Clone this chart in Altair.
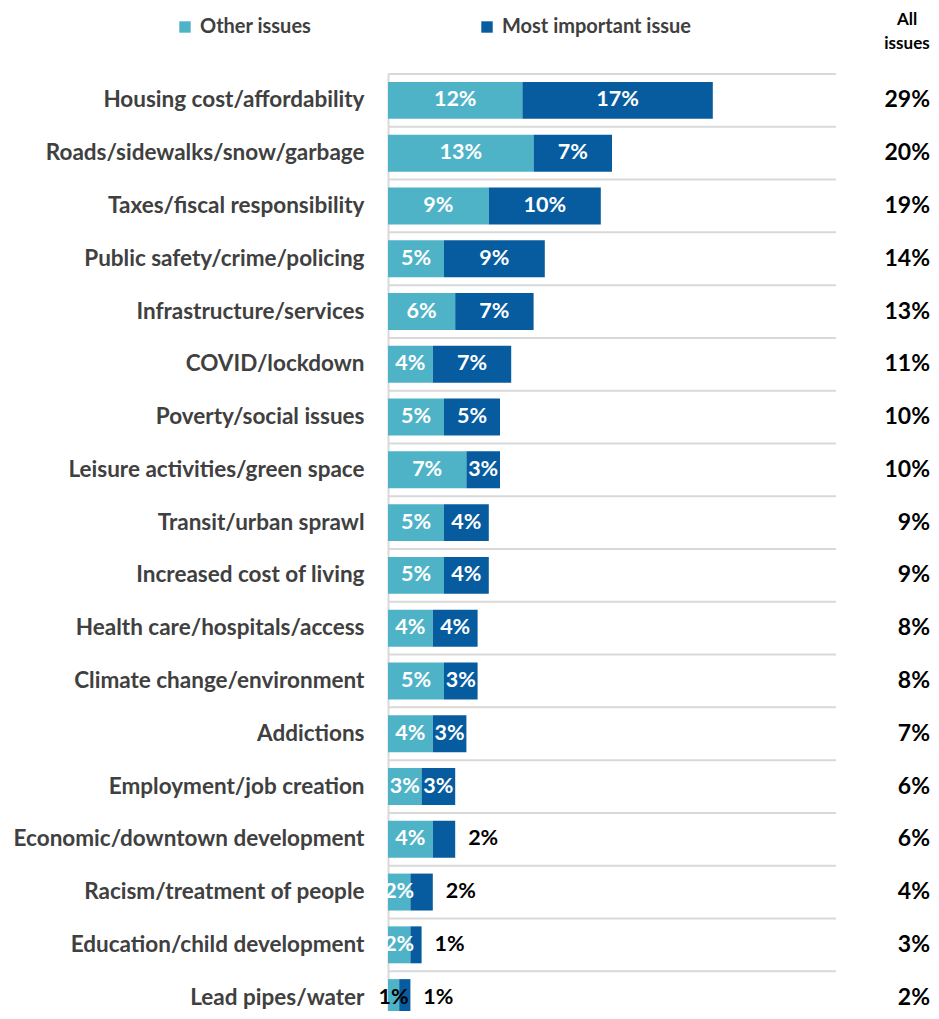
import altair as alt
import pandas as pd

categories = [
    "Housing cost/affordability",
    "Roads/sidewalks/snow/garbage",
    "Taxes/fiscal responsibility",
    "Public safety/crime/policing",
    "Infrastructure/services",
    "COVID/lockdown",
    "Poverty/social issues",
    "Leisure activities/green space",
    "Transit/urban sprawl",
    "Increased cost of living",
    "Health care/hospitals/access",
    "Climate change/environment",
    "Addictions",
    "Employment/job creation",
    "Economic/downtown development",
    "Racism/treatment of people",
    "Education/child development",
    "Lead pipes/water",
]
other = [12, 13, 9, 5, 6, 4, 5, 7, 5, 5, 4, 5, 4, 3, 4, 2, 2, 1]
most = [17, 7, 10, 9, 7, 7, 5, 3, 4, 4, 4, 3, 3, 3, 2, 2, 1, 1]
totals = [29, 20, 19, 14, 13, 11, 10, 10, 9, 9, 8, 8, 7, 6, 6, 4, 3, 2]
series_names = ["Other issues", "Most important issue"]
series_colors = ["#4FB3C8", "#065C9F"]
header_lines = ["All", "issues"]

FONT = "Lato"
GRAY = "#404040"

rows = []
for i, c in enumerate(categories):
    o, m = other[i], most[i]
    rows.append(dict(cat=c, series=series_names[0], ord=0, value=o,
                     label=f"{o}%", lx=o / 2,
                     lc="#000000" if o <= 1 else "#FFFFFF"))
    outside = m <= 2
    rows.append(dict(cat=c, series=series_names[1], ord=1, value=m,
                     label=f"{m}%", lx=(o + m + 2.5) if outside else (o + m / 2),
                     lc="#000000" if outside else "#FFFFFF"))
df = pd.DataFrame(rows)
tot_df = pd.DataFrame({"cat": categories, "total": [f"{t}%" for t in totals]})

yscale = alt.Scale(domain=categories, range=[0, 950], paddingInner=0.3, paddingOuter=0.15)
xscale = alt.Scale(domain=[0, 40])

bars = alt.Chart(df).mark_bar().encode(
    y=alt.Y("cat:N", scale=yscale, sort=categories, title=None,
            axis=alt.Axis(labelFont=FONT, labelFontSize=22.5, labelFontWeight="bold",
                          labelColor=GRAY, ticks=False, labelPadding=24,
                          domainColor="#D9D9D9", domainWidth=2, grid=False,
                          labelLimit=400)),
    x=alt.X("value:Q", stack="zero", scale=xscale, axis=None),
    color=alt.Color("series:N", scale=alt.Scale(domain=series_names, range=series_colors),
                    legend=alt.Legend(orient="none", legendX=-213, legendY=-57,
                                      direction="horizontal", title=None,
                                      symbolType="square", symbolSize=130,
                                      labelFont=FONT, labelFontSize=20,
                                      labelFontWeight="bold", labelColor=GRAY,
                                      columnPadding=165, labelOffset=5,
                                      labelLimit=400)),
    order=alt.Order("ord:Q"),
)

grid = alt.Chart(tot_df).mark_rule(color="#D9D9D9", strokeWidth=2, yOffset=-7.9).encode(
    y=alt.Y("cat:N", sort=categories, bandPosition=0),
    x=alt.value(0),
    x2=alt.value(448),
)

labels = alt.Chart(df).mark_text(font=FONT, fontSize=21.5, fontWeight="bold",
                                  align="center", baseline="middle").encode(
    y=alt.Y("cat:N", sort=categories),
    x=alt.X("lx:Q"),
    text="label:N",
    color=alt.Color("lc:N", scale=None),
)

tot = alt.Chart(tot_df).mark_text(font=FONT, fontSize=23, fontWeight="bold",
                                   align="right", baseline="middle", color="#000000").encode(
    y=alt.Y("cat:N", sort=categories),
    x=alt.value(542),
    text="total:N",
)

header = alt.Chart(pd.DataFrame({"h": [0]})).mark_text(
    font=FONT, fontSize=17, fontWeight="bold", align="center", baseline="top",
    color="#000000", lineHeight=24).encode(
    x=alt.value(519), y=alt.value(-62), text=alt.value(header_lines))

chart = alt.layer(grid, bars, labels, tot, header).properties(
    width=448, height=937,
    padding={"left": 380, "top": 66, "right": 95, "bottom": 0},
    autosize=alt.AutoSizeParams(type="none"),
).configure_view(stroke=None)

chart.save("out.html", embed_options={"renderer": "svg", "actions": False})
